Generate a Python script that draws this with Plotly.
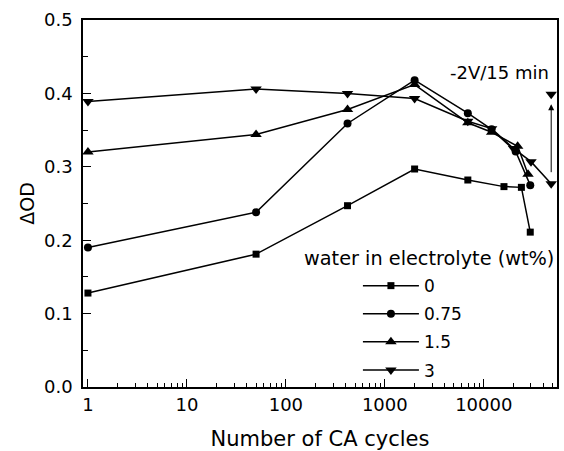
import math
import plotly.graph_objects as go

# ---- data ----
x_w0 = [1, 50, 420, 2000, 6900, 16000, 24000, 29500]
y_w0 = [0.128, 0.181, 0.247, 0.297, 0.282, 0.273, 0.272, 0.211]

x_w075 = [1, 50, 420, 2000, 6900, 12000, 21000, 29500]
y_w075 = [0.190, 0.238, 0.359, 0.418, 0.373, 0.351, 0.321, 0.275]

x_w15 = [1, 50, 420, 2000, 6900, 12000, 22000, 28000]
y_w15 = [0.320, 0.344, 0.378, 0.412, 0.360, 0.347, 0.328, 0.290]

x_w3 = [1, 50, 420, 2000, 6900, 12000, 20000, 30000, 48000]
y_w3 = [0.389, 0.406, 0.400, 0.393, 0.362, 0.352, 0.325, 0.307, 0.277]

# point after the -2V/15 min treatment
x_recov = [48000]
y_recov = [0.399]

series_names = ["0", "0.75", "1.5", "3"]
x_ticks = [1, 10, 100, 1000, 10000]
x_ticktext = ["1", "10", "100", "1000", "10000"]
y_ticks = [0.0, 0.1, 0.2, 0.3, 0.4, 0.5]

FONT = "DejaVu Sans"

fig = go.Figure()
specs = [
    (x_w0, y_w0, "square", 7),
    (x_w075, y_w075, "circle", 8),
    (x_w15, y_w15, "triangle-up", 10),
    (x_w3, y_w3, "triangle-down", 10),
]
for i, ((xs, ys, sym, sz), name) in enumerate(zip(specs, series_names)):
    fig.add_trace(go.Scatter(
        x=xs, y=ys, mode="lines+markers", name=name,
        legendgroup=name,
        line=dict(color="black", width=1.5),
        marker=dict(symbol=sym, size=sz, color="black"),
    ))

fig.add_trace(go.Scatter(
    x=x_recov, y=y_recov, mode="markers", showlegend=False,
    marker=dict(symbol="triangle-down", size=10, color="black"),
))

# arrow from last point of series 3 to recovered point
fig.add_annotation(
    x=math.log10(x_recov[0]), y=y_recov[0],
    ax=math.log10(x_w3[-1]), ay=y_w3[-1],
    xref="x", yref="y", axref="x", ayref="y",
    text="", showarrow=True, arrowhead=2, arrowsize=1.2, arrowwidth=1,
    arrowcolor="black", standoff=10, startstandoff=10,
)
fig.add_annotation(
    x=math.log10(x_recov[0]), y=0.429, xref="x", yref="y",
    text="-2V/15 min", showarrow=False, xanchor="right", yanchor="middle",
    font=dict(family=FONT, size=18, color="black"),
)
# legend title
fig.add_annotation(
    x=0.462, y=0.351, xref="paper", yref="paper",
    text="water in electrolyte (wt%)", showarrow=False,
    xanchor="left", yanchor="middle",
    font=dict(family=FONT, size=19.3, color="black"),
)

minor_vals = [m * 10 ** e for e in range(0, 5) for m in range(2, 10) if m * 10 ** e < 55000]

fig.update_xaxes(
    type="log", range=[-0.05, 4.74],
    tickvals=x_ticks, ticktext=x_ticktext,
    ticks="inside", ticklen=8, tickwidth=1, tickcolor="black",
    minor=dict(tickvals=minor_vals, ticks="inside", ticklen=4, tickwidth=1, tickcolor="black", showgrid=False),
    showline=True, linecolor="black", linewidth=1.5, mirror=True,
    showgrid=False, zeroline=False,
    tickfont=dict(family=FONT, size=18, color="black"),
    ticklabelstandoff=1,
    title=dict(text="Number of CA cycles", font=dict(family=FONT, size=21, color="black"), standoff=18),
)
fig.update_yaxes(
    range=[0, 0.5], tickvals=y_ticks, tickformat=".1f",
    ticks="inside", ticklen=8, tickwidth=1, tickcolor="black",
    minor=dict(dtick=0.05, ticks="inside", ticklen=5, tickwidth=1, tickcolor="black", showgrid=False),
    showline=True, linecolor="black", linewidth=1.5, mirror=True,
    showgrid=False, zeroline=False,
    tickfont=dict(family=FONT, size=18, color="black"),
    ticklabelstandoff=5,
    title=dict(text="ΔOD", font=dict(family=FONT, size=19, color="black"), standoff=4),
)

fig.update_layout(
    width=564, height=451,
    margin=dict(l=83, r=7, t=20, b=64, autoexpand=False),
    paper_bgcolor="white", plot_bgcolor="white",
    showlegend=True,
    legend=dict(
        x=0.580, y=0.324, xanchor="left", yanchor="top",
        bgcolor="rgba(0,0,0,0)", borderwidth=0,
        font=dict(family=FONT, size=17, color="black"),
        tracegroupgap=3, itemwidth=56,
    ),
)

fig.write_html("out.html")
